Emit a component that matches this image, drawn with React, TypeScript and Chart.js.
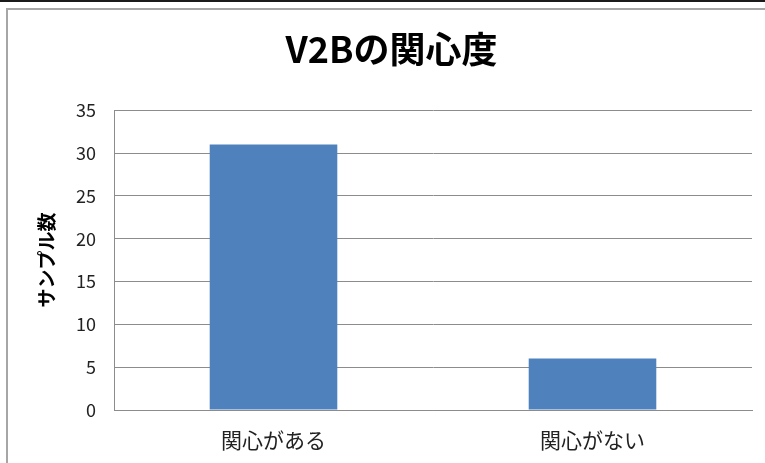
import React, { useEffect, useRef } from "react";
import { Chart, registerables } from "chart.js";

Chart.register(...registerables);

const chartTitle = "V2Bの関心度";
const yAxisTitle = "サンプル数";
const categories = ["関心がある", "関心がない"];
const sampleCounts = [31, 6];
const yMin = 0;
const yMax = 35;
const yStep = 5;

const JP_FONT = '"Noto Sans CJK JP", "Noto Sans", sans-serif';
const GRID_GRAY = "#8c8c8c";

export default function App() {
  const canvasRef = useRef<HTMLCanvasElement | null>(null);

  useEffect(() => {
    const canvas = canvasRef.current;
    if (!canvas) return;
    const chart = new Chart(canvas, {
      type: "bar",
      data: {
        labels: categories,
        datasets: [
          {
            label: yAxisTitle,
            data: sampleCounts,
            backgroundColor: "#4F81BD",
            borderWidth: 0,
            categoryPercentage: 0.4,
            barPercentage: 1,
          },
        ],
      },
      options: {
        responsive: false,
        animation: false,
        devicePixelRatio: 1,
        layout: { padding: { left: 31, right: 13, top: 0, bottom: 0 } },
        plugins: {
          legend: { display: false },
          tooltip: { enabled: false },
          title: {
            display: true,
            text: chartTitle,
            color: "#000",
            font: { family: JP_FONT, size: 36, weight: "bold" },
            padding: { top: 28, bottom: 39 },
          },
        },
        scales: {
          x: {
            grid: { display: false, drawTicks: false },
            border: { display: true, color: GRID_GRAY, width: 1 },
            ticks: {
              color: "#222",
              font: { family: JP_FONT, size: 21 },
              padding: 17,
            },
            afterFit: (scale: any) => {
              scale.height = 53;
            },
          },
          y: {
            min: yMin,
            max: yMax,
            ticks: {
              stepSize: yStep,
              color: "#222",
              font: { family: JP_FONT, size: 18 },
              padding: 18,
            },
            grid: { color: GRID_GRAY, lineWidth: 1, drawTicks: false },
            border: { display: true, color: GRID_GRAY, width: 1 },
            title: {
              display: true,
              text: yAxisTitle,
              color: "#000",
              font: { family: JP_FONT, size: 19, weight: "bold" },
              padding: { top: 4, bottom: 0 },
            },
            afterFit: (scale: any) => {
              scale.width = 83;
            },
          },
        },
      },
    });
    return () => chart.destroy();
  }, []);

  return (
    <div
      style={{
        position: "fixed",
        left: 0,
        top: 0,
        width: 765,
        height: 463,
        background: "#fff",
        overflow: "hidden",
      }}
    >
      <div
        style={{
          position: "absolute",
          left: 0,
          top: 0,
          width: 765,
          height: 2,
          background: "#1a1a1a",
        }}
      />
      <div
        style={{
          position: "absolute",
          left: 6,
          top: 8,
          width: 820,
          height: 520,
          border: "2px solid #a6a6a6",
          boxSizing: "border-box",
        }}
      />
      <canvas
        ref={canvasRef}
        width={765}
        height={463}
        style={{ position: "absolute", left: 0, top: 0 }}
      />
    </div>
  );
}
